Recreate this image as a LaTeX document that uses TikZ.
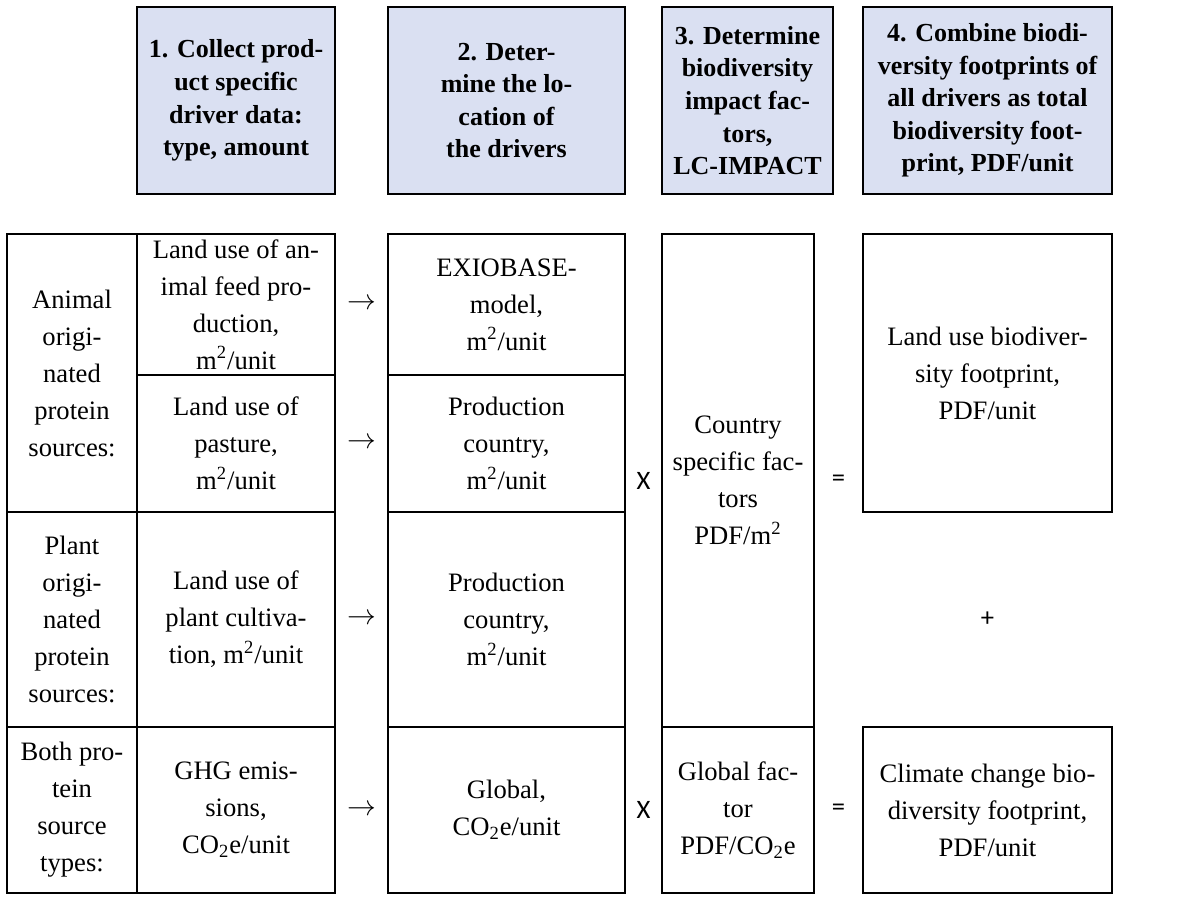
\documentclass[tikz,border=0pt]{standalone}
\usepackage{fontspec}
\setmainfont{Liberation Serif}
\newfontfamily\opfont{Carlito}
\usepackage{tikz}
\usetikzlibrary{positioning,calc}
\definecolor{headblue}{RGB}{218,224,242}
\newcommand{\msq}{m\textsuperscript{2}}
\newcommand{\cotwo}{CO\textsubscript{2}e}

\begin{document}
\begin{tikzpicture}[
      x=1pt, y=1pt,
      font=\fontsize{13.3}{18.5}\selectfont,
      cell/.style={draw, line width=1.2pt, inner sep=2pt, outer sep=0pt, align=center},
      head/.style={cell, fill=headblue, minimum height=93.5pt, font=\fontsize{13}{16.3}\selectfont\bfseries},
      op/.style={font=\fontsize{13.3}{15}\selectfont\opfont}
    ]
    \useasboundingbox (0,0) rectangle (596.5,-448);
    % step headers
    \node[head, anchor=north west, minimum width=99pt] (h1) at (68.5,-3.5) {1. Collect prod-\\ uct specific\\ driver data:\\ type, amount};
    \node[head, anchor=north west, minimum width=118.5pt] (h2) at (194,-3.5) {2. Deter-\\ mine the lo-\\ cation of\\ the drivers};
    \node[head, anchor=north west, minimum width=85.5pt] (h3) at (331,-3.5) {3. Determine\\ biodiversity\\ impact fac-\\ tors,\\ LC-IMPACT};
    \node[head, anchor=north west, minimum width=124.5pt] (h4) at (431.5,-3.5) {4. Combine biodi-\\ versity footprints of\\ all drivers as total\\ biodiversity foot-\\ print, PDF/unit};
    % protein source types
    \node[cell, anchor=north west, minimum width=65pt, minimum height=139pt] (animal) at (3.5,-117) {Animal\\ origi-\\ nated\\ protein\\ sources:};
    \node[cell, minimum width=65pt, minimum height=107.5pt, below=0pt of animal] (plant) {Plant\\ origi-\\ nated\\ protein\\ sources:};
    \node[cell, minimum width=65pt, minimum height=83pt, below=0pt of plant] (both) {Both pro-\\ tein\\ source\\ types:};
    % drivers
    \node[cell, anchor=north west, minimum width=99pt, minimum height=70.5pt] (feed) at (68.5,-117) {Land use of an-\\ imal feed pro-\\ duction,\\ \msq/unit};
    \node[cell, minimum width=99pt, minimum height=68.5pt, below=0pt of feed] (pasture) {Land use of\\ pasture,\\ \msq/unit};
    \node[cell, minimum width=99pt, minimum height=107.5pt, below=0pt of pasture] (cultiv) {Land use of\\ plant cultiva-\\ tion, \msq/unit};
    \node[cell, minimum width=99pt, minimum height=83pt, below=0pt of cultiv] (ghg) {GHG emis-\\ sions,\\ \cotwo/unit};
    % locations
    \node[cell, anchor=north west, minimum width=118.5pt, minimum height=70.5pt] (exio) at (194,-117) {EXIOBASE-\\ model,\\ \msq/unit};
    \node[cell, minimum width=118.5pt, minimum height=68.5pt, below=0pt of exio] (prodA) {Production\\ country,\\ \msq/unit};
    \node[cell, minimum width=118.5pt, minimum height=107.5pt, below=0pt of prodA] (prodP) {Production\\ country,\\ \msq/unit};
    \node[cell, minimum width=118.5pt, minimum height=83pt, below=0pt of prodP] (global) {Global,\\ \cotwo/unit};
    % impact factors
    \node[cell, anchor=north west, minimum width=76pt, minimum height=246.5pt] (country) at (331,-117) {Country\\ specific fac-\\ tors\\ PDF/\msq};
    \node[cell, minimum width=76pt, minimum height=83pt, below=0pt of country] (gfactor) {Global fac-\\ tor\\ PDF/\cotwo};
    % footprints
    \node[cell, anchor=north west, minimum width=124.5pt, minimum height=139pt] (landfp) at (431.5,-117) {Land use biodiver-\\ sity footprint,\\ PDF/unit};
    \node[cell, anchor=north west, minimum width=124.5pt, minimum height=83pt] (climfp) at (431.5,-363.5) {Climate change bio-\\ diversity footprint,\\ PDF/unit};
    % arrows and operators
    \node (a1) at ($(feed.east)!0.5!(exio.west)$) {$\rightarrow$};
    \node (a2) at ($(pasture.east)!0.5!(prodA.west)$) {$\rightarrow$};
    \node (a3) at ($(cultiv.east)!0.5!(prodP.west)$) {$\rightarrow$};
    \node (a4) at ($(ghg.east)!0.5!(global.west)$) {$\rightarrow$};
    \node[op] (x1) at ($(country.west)!0.5!(country.west -| exio.east)$) {X};
    \node[op] (x2) at ($(gfactor.west)!0.5!(global.east)$) {X};
    \node[op] (eq1) at ($(country.east)!0.5!(country.east -| landfp.west)$) {=};
    \node[op] (eq2) at ($(gfactor.east)!0.5!(climfp.west)$) {=};
    \node[op] (plus) at ($(landfp.south)!0.5!(climfp.north)$) {+};
  \end{tikzpicture}
\end{document}
